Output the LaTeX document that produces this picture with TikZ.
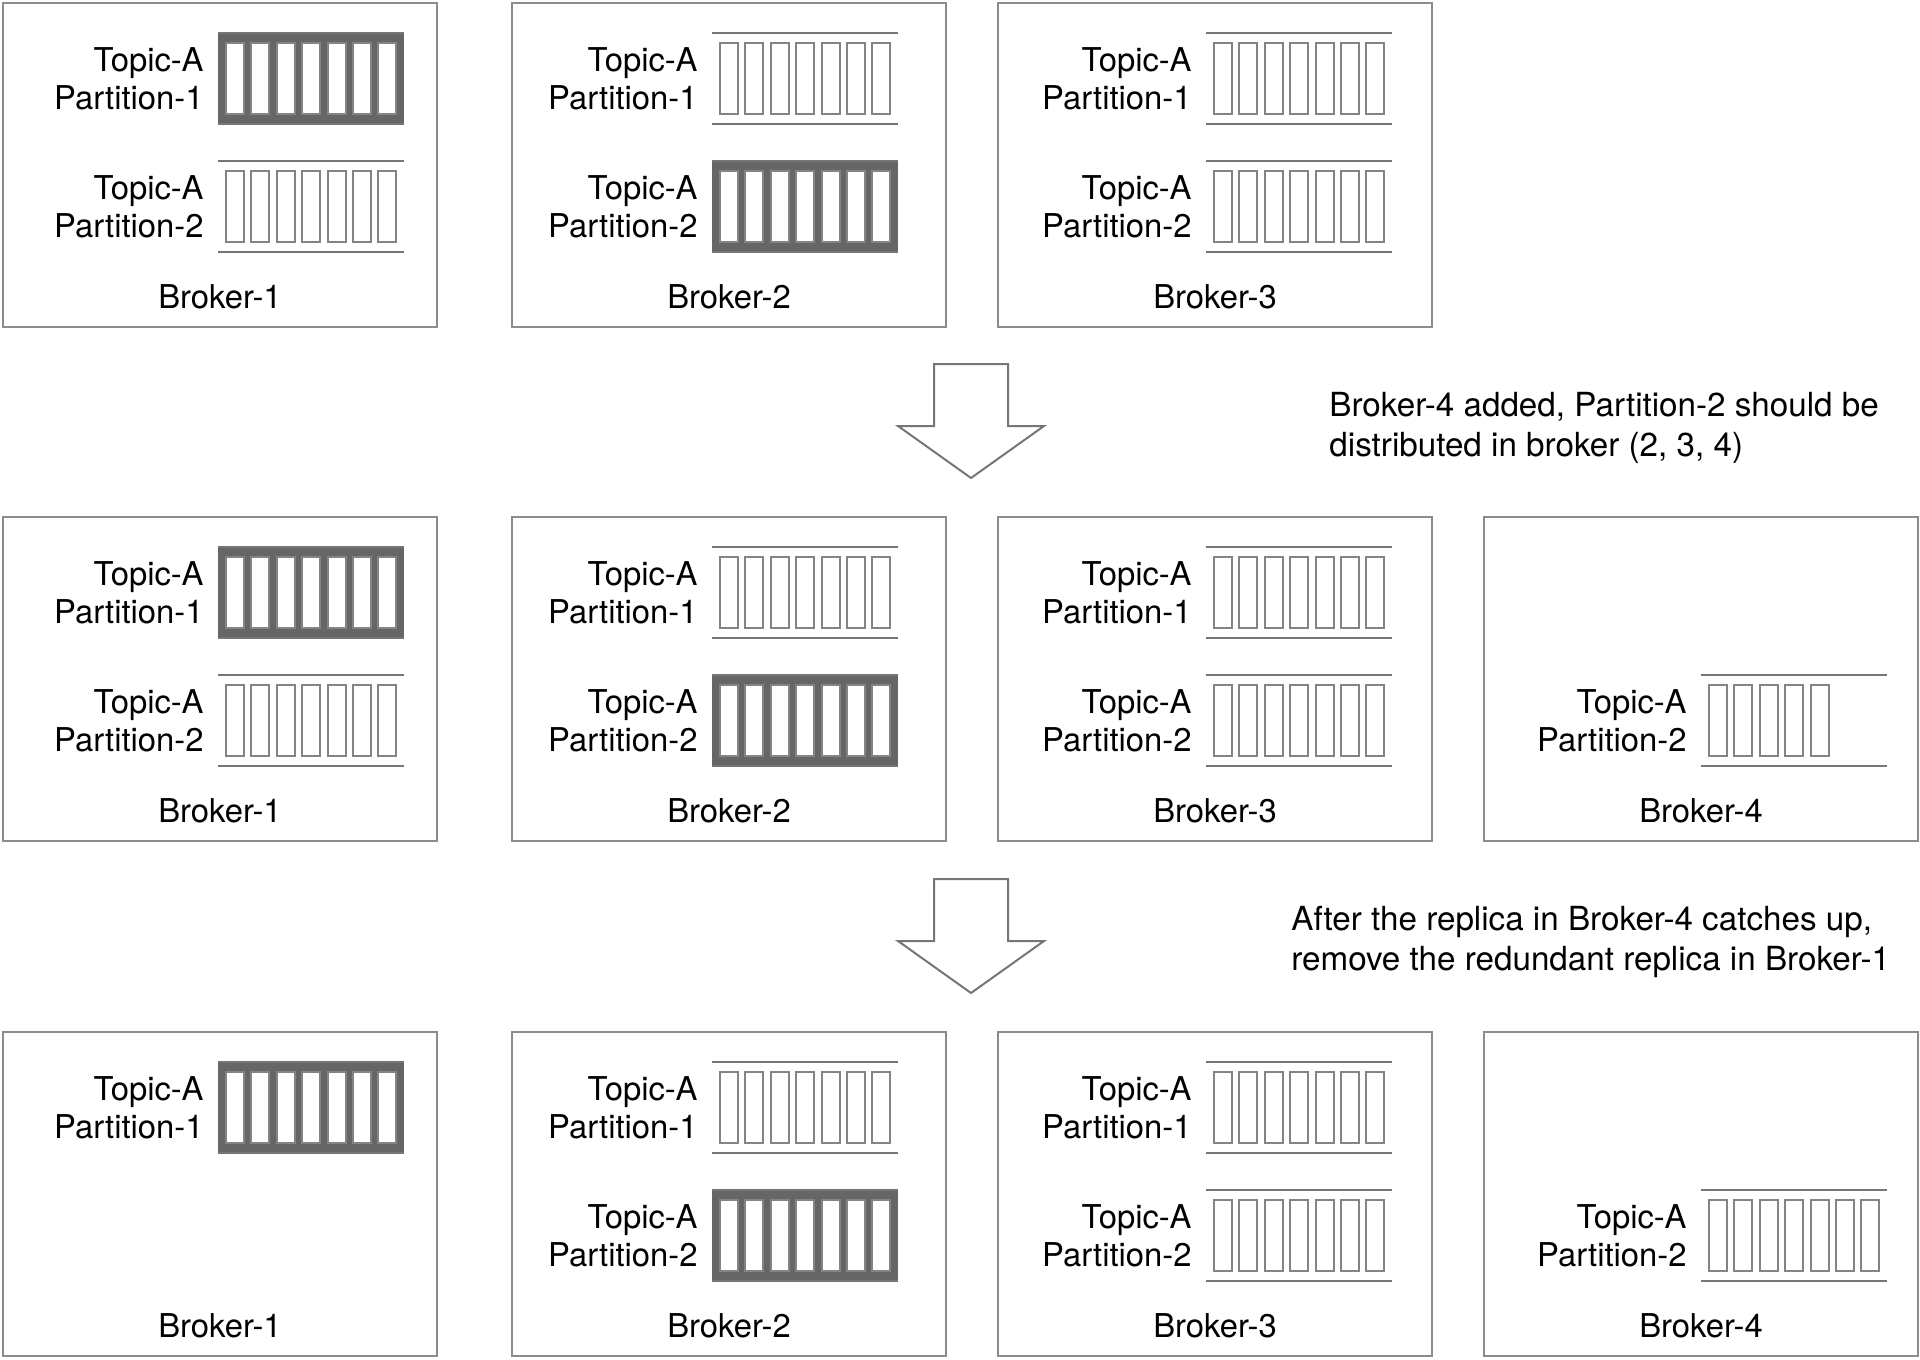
\documentclass[tikz,border=0pt]{standalone}
\usepackage{xcolor,tikz,fontspec}
\usetikzlibrary{positioning,calc}
\setmainfont{TeX Gyre Heros}
\definecolor{frame}{RGB}{140,140,140}
\definecolor{rail}{RGB}{118,118,118}
\definecolor{slot}{RGB}{132,132,132}
\definecolor{lead}{RGB}{102,102,102}
\tikzset{
  broker/.style={draw=frame,line width=1pt,minimum width=217pt,minimum height=162pt,inner sep=0pt,outer sep=0pt},
  lab/.style={font=\fontsize{16.4}{19}\selectfont,align=right,inner sep=0pt},
  blab/.style={font=\fontsize{16.4}{19}\selectfont,inner sep=0pt,anchor=base},
  note/.style={font=\fontsize{16.6}{20}\selectfont,align=left,inner sep=0pt,anchor=north west},
  railline/.style={draw=rail,line width=1pt},
  cell/.style={draw=slot,fill=white,line width=1pt},
  leader/.style={fill=lead},
  hollow/.style={draw=rail,line width=1pt,fill=white,line join=miter}
}

\begin{document}
\begin{tikzpicture}[x=.5pt,y=-.5pt]
  \useasboundingbox (0,0) rectangle (1920,1359);
  \foreach \r/\c in {1/1,1/2,1/3,2/1,2/2,2/3,2/4,3/1,3/2,3/3,3/4}{
    \pgfmathsetmacro{\bl}{{3,512,998,1484}[\c-1]}
    \pgfmathsetmacro{\bt}{{3,517,1032}[\r-1]}
    \node[broker] (b\r\c) at (\bl+217,\bt+162) {};
    \node[blab] (n\r\c) at ($(b\r\c.south)+(0,-19)$) {Broker-\c};
  }
  \foreach \r/\c/\s/\n/\k in {1/1/1/7/1,1/1/2/7/0,1/2/1/7/0,1/2/2/7/1,1/3/1/7/0,1/3/2/7/0,
      2/1/1/7/1,2/1/2/7/0,2/2/1/7/0,2/2/2/7/1,2/3/1/7/0,2/3/2/7/0,2/4/2/5/0,
      3/1/1/7/1,3/2/1/7/0,3/2/2/7/1,3/3/1/7/0,3/3/2/7/0,3/4/2/7/0}{
    \pgfmathsetmacro{\px}{{218,712,1206,1701}[\c-1]}
    \pgfmathsetmacro{\py}{{3,517,1032}[\r-1]+30+128*(\s-1)}
    \ifnum\k=1 \fill[leader] (\px,\py) rectangle ++(186,91);\fi
    \foreach \i in {1,...,\n}{\draw[cell] ({\px+8+25.4*(\i-1)},\py+10) rectangle ++(18,71);}
    \draw[railline] (\px,\py) -- ++(186,0) (\px,\py+91) -- ++(186,0);
    \node[lab,anchor=east] (p\r\c\s) at (\px-14,\py+45.5) {Topic-A\\Partition-\s};
  }
  \foreach \dy in {0,515}{
    \draw[hollow] (934,364+\dy) -- ++(74,0) -- ++(0,62) -- ++(36,0) -- (971,478+\dy) -- (898,426+\dy) -- ++(36,0) -- cycle;
  }
  \node[note] (add) at (1329,392) {Broker-4 added, Partition-2 should be\\distributed in broker (2, 3, 4)};
  \node[note] (drop) at (1291,906) {After the replica in Broker-4 catches up,\\remove the redundant replica in Broker-1};
\end{tikzpicture}
\end{document}
